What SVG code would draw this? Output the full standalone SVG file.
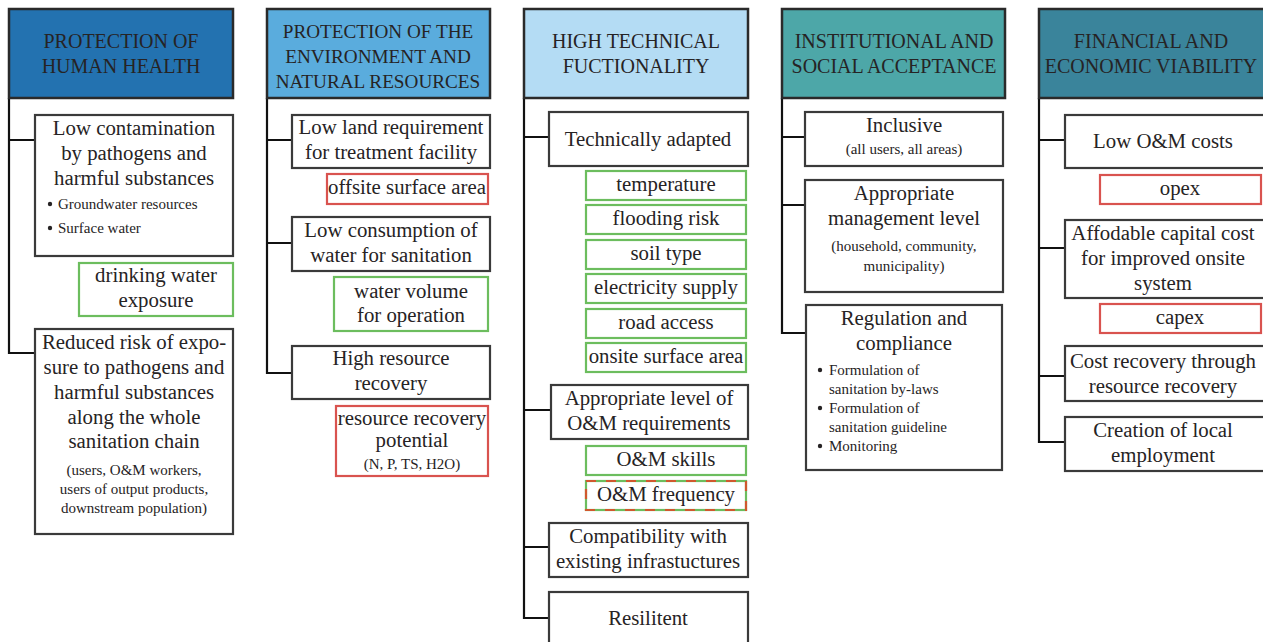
<svg xmlns="http://www.w3.org/2000/svg" width="1263" height="642" viewBox="0 0 1263 642">
  <style>
    text { font-family: "Liberation Serif", "DejaVu Serif", serif; fill: #262324; text-anchor: middle; }
    .t { font-size: 20.8px; }
    .s { font-size: 15px; }
    .h { font-size: 20px; }
    .h2 { font-size: 19.2px; }
    .bl { text-anchor: start; }
    .hd { stroke: #2a2a2a; stroke-width: 2.5; }
    .bx { fill: #ffffff; stroke: #3a3a3a; stroke-width: 2.2; }
    .gr { fill: #ffffff; stroke: #6cbd5e; stroke-width: 2.2; }
    .rd { fill: #ffffff; stroke: #d9534f; stroke-width: 2.2; }
    .ln { fill: none; stroke: #111111; stroke-width: 2.2; }
  </style>

  <!-- tree connectors -->
  <g id="connectors">
    <path class="ln" d="M9,98 V353 H35 M9,140 H35"/>
    <path class="ln" d="M267,98 V373 H292 M267,140 H292 M267,243 H292"/>
    <path class="ln" d="M524,98 V618 H549 M524,137 H549 M524,410 H551 M524,547 H549"/>
    <path class="ln" d="M782,98 V333 H806 M782,137 H805 M782,205 H805"/>
    <path class="ln" d="M1039,98 V442 H1065 M1039,140 H1065 M1039,248 H1065 M1039,376 H1065"/>
  </g>

  <!-- column 1 -->
  <g id="human-health">
    <rect class="hd" x="9" y="9" width="224" height="89" fill="#2372b0"/>
    <text class="h" x="121" y="48">PROTECTION OF</text>
    <text class="h" x="121" y="73">HUMAN HEALTH</text>
  </g>
  <g id="low-contamination">
    <rect class="bx" x="35" y="115" width="198" height="141"/>
    <text class="t" x="134" y="135">Low contamination</text>
    <text class="t" x="134" y="160">by pathogens and</text>
    <text class="t" x="134" y="185">harmful substances</text>
    <circle cx="50" cy="204" r="2.2" fill="#262324"/>
    <text class="s bl" x="58" y="209">Groundwater resources</text>
    <circle cx="50" cy="228" r="2.2" fill="#262324"/>
    <text class="s bl" x="58" y="233">Surface water</text>
  </g>
  <g id="drinking-water">
    <rect class="gr" x="79" y="263" width="154" height="53"/>
    <text class="t" x="156" y="282">drinking water</text>
    <text class="t" x="156" y="307">exposure</text>
  </g>
  <g id="reduced-risk">
    <rect class="bx" x="35" y="329" width="198" height="205"/>
    <text class="t" x="134" y="349">Reduced risk of expo-</text>
    <text class="t" x="134" y="374">sure to pathogens and</text>
    <text class="t" x="134" y="399">harmful substances</text>
    <text class="t" x="134" y="424">along the whole</text>
    <text class="t" x="134" y="448">sanitation chain</text>
    <text class="s" x="134" y="475">(users, O&amp;M workers,</text>
    <text class="s" x="134" y="494">users of output products,</text>
    <text class="s" x="134" y="513">downstream population)</text>
  </g>

  <!-- column 2 -->
  <g id="environment">
    <rect class="hd" x="267" y="9" width="223" height="89" fill="#5aacdd"/>
    <text class="h2" x="378" y="38">PROTECTION OF THE</text>
    <text class="h2" x="378" y="63">ENVIRONMENT AND</text>
    <text class="h2" x="378" y="88">NATURAL RESOURCES</text>
  </g>
  <g id="low-land">
    <rect class="bx" x="292" y="115" width="198" height="53"/>
    <text class="t" x="391" y="134">Low land requirement</text>
    <text class="t" x="391" y="159">for treatment facility</text>
  </g>
  <g id="offsite-area">
    <rect class="rd" x="327" y="174" width="161" height="30"/>
    <text class="t" x="407" y="194">offsite surface area</text>
  </g>
  <g id="low-water">
    <rect class="bx" x="292" y="217" width="198" height="54"/>
    <text class="t" x="391" y="237">Low consumption of</text>
    <text class="t" x="391" y="262">water for sanitation</text>
  </g>
  <g id="water-volume">
    <rect class="gr" x="334" y="277" width="154" height="54"/>
    <text class="t" x="411" y="298">water volume</text>
    <text class="t" x="411" y="322">for operation</text>
  </g>
  <g id="resource-recovery">
    <rect class="bx" x="292" y="346" width="198" height="53"/>
    <text class="t" x="391" y="365">High resource</text>
    <text class="t" x="391" y="390">recovery</text>
  </g>
  <g id="recovery-potential">
    <rect class="rd" x="336" y="406" width="152" height="70"/>
    <text class="t" x="412" y="425">resource recovery</text>
    <text class="t" x="412" y="447">potential</text>
    <text class="s" x="412" y="469">(N, P, TS, H2O)</text>
  </g>

  <!-- column 3 -->
  <g id="technical">
    <rect class="hd" x="524" y="9" width="224" height="89" fill="#b4dcf4"/>
    <text class="h" x="636" y="48">HIGH TECHNICAL</text>
    <text class="h" x="636" y="73">FUCTIONALITY</text>
  </g>
  <g id="technically-adapted">
    <rect class="bx" x="549" y="112" width="199" height="54"/>
    <text class="t" x="648" y="146">Technically adapted</text>
  </g>
  <g id="temperature">
    <rect class="gr" x="586" y="171" width="160" height="29"/>
    <text class="t" x="666" y="191">temperature</text>
  </g>
  <g id="flooding-risk">
    <rect class="gr" x="586" y="205" width="160" height="29"/>
    <text class="t" x="666" y="225">flooding risk</text>
  </g>
  <g id="soil-type">
    <rect class="gr" x="586" y="240" width="160" height="29"/>
    <text class="t" x="666" y="260">soil type</text>
  </g>
  <g id="electricity">
    <rect class="gr" x="586" y="274" width="160" height="29"/>
    <text class="t" x="666" y="294">electricity supply</text>
  </g>
  <g id="road-access">
    <rect class="gr" x="586" y="309" width="160" height="29"/>
    <text class="t" x="666" y="329">road access</text>
  </g>
  <g id="onsite-area">
    <rect class="gr" x="586" y="343" width="160" height="29"/>
    <text class="t" x="666" y="363">onsite surface area</text>
  </g>
  <g id="om-requirements">
    <rect class="bx" x="551" y="385" width="197" height="54"/>
    <text class="t" x="649" y="405">Appropriate level of</text>
    <text class="t" x="649" y="430">O&amp;M requirements</text>
  </g>
  <g id="om-skills">
    <rect class="gr" x="586" y="446" width="160" height="29"/>
    <text class="t" x="666" y="466">O&amp;M skills</text>
  </g>
  <g id="om-frequency">
    <rect class="gr" x="586" y="481" width="160" height="29"/>
    <rect x="586" y="481" width="160" height="29" fill="none" stroke="#d0582e" stroke-width="2.2" stroke-dasharray="10 10"/>
    <text class="t" x="666" y="501">O&amp;M frequency</text>
  </g>
  <g id="compatibility">
    <rect class="bx" x="549" y="523" width="199" height="54"/>
    <text class="t" x="648" y="543">Compatibility with</text>
    <text class="t" x="648" y="568">existing infrastuctures</text>
  </g>
  <g id="resilient">
    <rect class="bx" x="549" y="592" width="199" height="60"/>
    <text class="t" x="648" y="625">Resilitent</text>
  </g>

  <!-- column 4 -->
  <g id="institutional">
    <rect class="hd" x="782" y="9" width="223" height="89" fill="#4da7a8"/>
    <text class="h" x="894" y="48">INSTITUTIONAL AND</text>
    <text class="h" x="894" y="73">SOCIAL ACCEPTANCE</text>
  </g>
  <g id="inclusive">
    <rect class="bx" x="805" y="112" width="198" height="54"/>
    <text class="t" x="904" y="132">Inclusive</text>
    <text class="s" x="904" y="154">(all users, all areas)</text>
  </g>
  <g id="management-level">
    <rect class="bx" x="805" y="180" width="198" height="112"/>
    <text class="t" x="904" y="200">Appropriate</text>
    <text class="t" x="904" y="225">management level</text>
    <text class="s" x="904" y="251">(household, community,</text>
    <text class="s" x="904" y="271">municipality)</text>
  </g>
  <g id="regulation">
    <rect class="bx" x="806" y="305" width="196" height="165"/>
    <text class="t" x="904" y="325">Regulation and</text>
    <text class="t" x="904" y="350">compliance</text>
    <circle cx="820" cy="370" r="2.2" fill="#262324"/>
    <text class="s bl" x="829" y="375">Formulation of</text>
    <text class="s bl" x="829" y="394">sanitation by-laws</text>
    <circle cx="820" cy="408" r="2.2" fill="#262324"/>
    <text class="s bl" x="829" y="413">Formulation of</text>
    <text class="s bl" x="829" y="432">sanitation guideline</text>
    <circle cx="820" cy="446" r="2.2" fill="#262324"/>
    <text class="s bl" x="829" y="451">Monitoring</text>
  </g>

  <!-- column 5 -->
  <g id="financial">
    <rect class="hd" x="1039" y="9" width="230" height="89" fill="#3a849b"/>
    <text class="h" x="1151" y="48">FINANCIAL AND</text>
    <text class="h" x="1151" y="73">ECONOMIC VIABILITY</text>
  </g>
  <g id="om-costs">
    <rect class="bx" x="1065" y="115" width="203" height="53"/>
    <text class="t" x="1163" y="148">Low O&amp;M costs</text>
  </g>
  <g id="opex">
    <rect class="rd" x="1100" y="175" width="161" height="29"/>
    <text class="t" x="1180" y="195">opex</text>
  </g>
  <g id="capital-cost">
    <rect class="bx" x="1065" y="220" width="203" height="78"/>
    <text class="t" x="1163" y="240">Affodable capital cost</text>
    <text class="t" x="1163" y="265">for improved onsite</text>
    <text class="t" x="1163" y="290">system</text>
  </g>
  <g id="capex">
    <rect class="rd" x="1100" y="304" width="161" height="29"/>
    <text class="t" x="1180" y="324">capex</text>
  </g>
  <g id="cost-recovery">
    <rect class="bx" x="1065" y="346" width="203" height="55"/>
    <text class="t" x="1163" y="368">Cost recovery through</text>
    <text class="t" x="1163" y="393">resource recovery</text>
  </g>
  <g id="local-employment">
    <rect class="bx" x="1065" y="417" width="203" height="54"/>
    <text class="t" x="1163" y="437">Creation of local</text>
    <text class="t" x="1163" y="462">employment</text>
  </g>
</svg>
